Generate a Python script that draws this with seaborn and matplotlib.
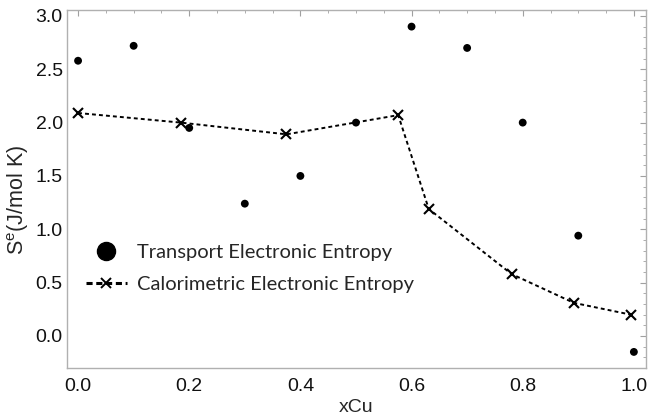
import matplotlib
matplotlib.use("Agg")
import matplotlib.pyplot as plt
from matplotlib.ticker import MultipleLocator, FormatStrFormatter
from matplotlib.lines import Line2D
import seaborn as sns
import pandas as pd

# Transport electronic entropy vs Cu fraction
x_transport = [0.0, 0.1, 0.2, 0.3, 0.4, 0.5, 0.6, 0.7, 0.8, 0.9, 1.0]
s_transport = [2.58, 2.72, 1.95, 1.24, 1.50, 2.00, 2.90, 2.70, 2.00, 0.94, -0.15]

# Calorimetric electronic entropy vs Cu fraction
x_calor = [0.0, 0.185, 0.375, 0.576, 0.631, 0.78, 0.892, 0.994]
s_calor = [2.09, 2.00, 1.89, 2.07, 1.19, 0.58, 0.31, 0.20]

transport = pd.DataFrame({"xCu": x_transport, "Se": s_transport})
calor = pd.DataFrame({"xCu": x_calor, "Se": s_calor})

sns.set_style("white")
plt.rcParams["font.family"] = ["Liberation Sans", "DejaVu Sans"]

fig, ax = plt.subplots(figsize=(6.5, 4.2), dpi=100)
fig.subplots_adjust(left=0.103, right=0.994, top=0.976, bottom=0.124)

dash = (0, (2.0, 1.6))
sns.lineplot(data=calor, x="xCu", y="Se", ax=ax, color="black", lw=1.4,
             linestyle=dash, marker="x", markersize=6.5,
             markeredgewidth=1.5, markeredgecolor="black",
             estimator=None, sort=False)
sns.scatterplot(data=transport, x="xCu", y="Se", ax=ax, color="black",
                s=32, edgecolor="none", zorder=3)

ax.set_xlim(-0.02, 1.022)
ax.set_ylim(-0.30, 3.055)
ax.xaxis.set_major_locator(MultipleLocator(0.2))
ax.xaxis.set_minor_locator(MultipleLocator(0.05))
ax.yaxis.set_major_locator(MultipleLocator(0.5))
ax.yaxis.set_minor_locator(MultipleLocator(0.1))
ax.xaxis.set_major_formatter(FormatStrFormatter("%.1f"))
ax.yaxis.set_major_formatter(FormatStrFormatter("%.1f"))

for sp in ax.spines.values():
    sp.set_color("#b0b0b0")
    sp.set_linewidth(1.0)
ax.tick_params(which="both", direction="in", top=True, right=True,
               color="#a0a0a0", labelsize=14, labelcolor="#111111")
ax.tick_params(which="major", length=4, width=0.8)
ax.tick_params(which="minor", length=2.2, width=0.6)
ax.tick_params(axis="x", pad=7)
ax.tick_params(axis="y", pad=3)

ax.set_xlabel("xCu", fontsize=14, labelpad=3)
ax.set_ylabel(r"S$^{\mathregular{e}}$(J/mol K)", fontsize=15.5)
ax.yaxis.set_label_coords(-0.062, 0.47)

handles = [
    Line2D([], [], color="black", marker="o", linestyle="none", markersize=13),
    Line2D([], [], color="black", marker="x", linestyle=(0, (2.0, 1.2)),
           lw=2.2, markersize=7, markeredgewidth=1.4),
]
ax.legend(handles, ["Transport Electronic Entropy", "Calorimetric Electronic Entropy"],
          loc="upper left", bbox_to_anchor=(0.002, 0.397), frameon=False,
          prop={"family": "Lato", "size": 14.5}, handlelength=2.0,
          handletextpad=0.5, labelspacing=0.75)

fig.savefig("out.png", dpi=100)
